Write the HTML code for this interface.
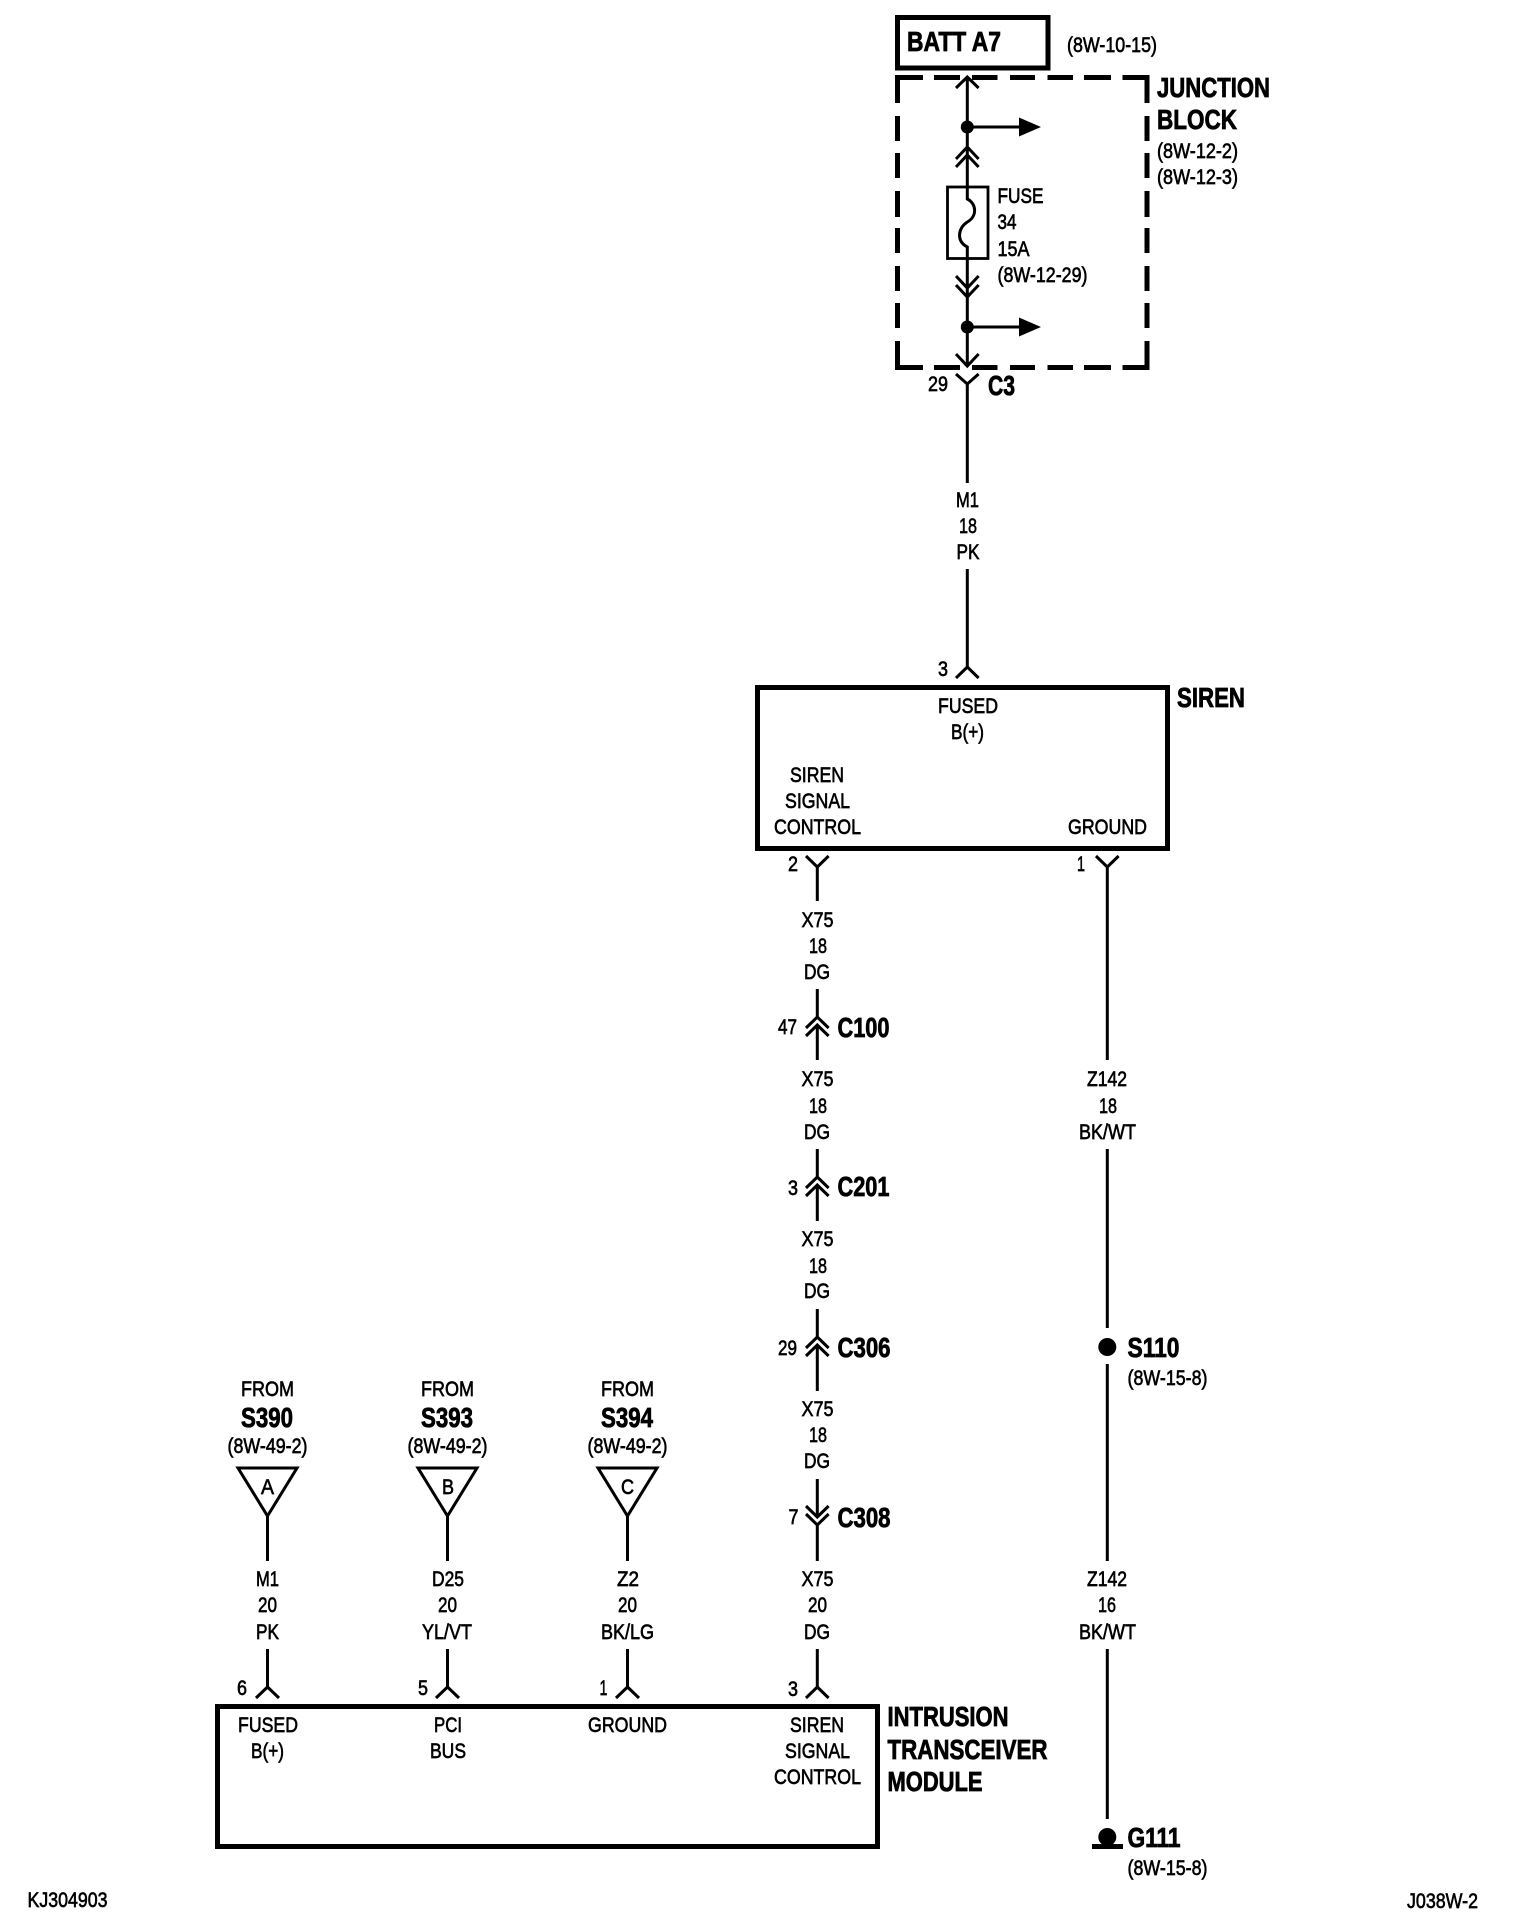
<!DOCTYPE html>
<html><head><meta charset="utf-8"><style>
html,body{margin:0;padding:0;background:#fff}
svg{display:block}
text{font-family:"Liberation Sans",Arial,sans-serif;fill:#000}
.r{font-size:21.5px;stroke:#000;stroke-width:.65}
.b{font-size:28px;font-weight:bold;stroke:#000;stroke-width:.8}
.w{fill:none;stroke:#000;stroke-width:3}
</style></head><body>
<svg width="1520" height="1928" viewBox="0 0 1520 1928" xmlns="http://www.w3.org/2000/svg">
<rect width="1520" height="1928" fill="#fff"/>
<!-- BATT box -->
<rect x="897.5" y="17.5" width="150.5" height="50.5" fill="none" stroke="#000" stroke-width="5"/>
<text class="b" x="907" y="51" textLength="94" lengthAdjust="spacingAndGlyphs">BATT A7</text>
<text class="r" x="1067" y="52" textLength="90" lengthAdjust="spacingAndGlyphs">(8W-10-15)</text>
<!-- Junction dashed box -->
<g fill="#000">
<rect x="895.5" y="75" width="27.5" height="5"/><rect x="934" y="75" width="26" height="5"/><rect x="972" y="75" width="25.5" height="5"/><rect x="1010" y="75" width="25" height="5"/><rect x="1047.5" y="75" width="25.5" height="5"/><rect x="1084" y="75" width="27" height="5"/><rect x="1122.5" y="75" width="27" height="5"/>
<rect x="895.5" y="365" width="27.5" height="5"/><rect x="934" y="365" width="26" height="5"/><rect x="972" y="365" width="25.5" height="5"/><rect x="1010" y="365" width="25" height="5"/><rect x="1047.5" y="365" width="25.5" height="5"/><rect x="1084" y="365" width="27" height="5"/><rect x="1122.5" y="365" width="27" height="5"/>
<rect x="895" y="75" width="5" height="28"/><rect x="895" y="116" width="5" height="25"/><rect x="895" y="153" width="5" height="25"/><rect x="895" y="191" width="5" height="26"/><rect x="895" y="228" width="5" height="25"/><rect x="895" y="266" width="5" height="25"/><rect x="895" y="303" width="5" height="25"/><rect x="895" y="341" width="5" height="29"/>
<rect x="1144.5" y="75" width="5" height="28"/><rect x="1144.5" y="116" width="5" height="25"/><rect x="1144.5" y="153" width="5" height="25"/><rect x="1144.5" y="191" width="5" height="26"/><rect x="1144.5" y="228" width="5" height="25"/><rect x="1144.5" y="266" width="5" height="25"/><rect x="1144.5" y="303" width="5" height="25"/><rect x="1144.5" y="341" width="5" height="29"/>
</g>
<text class="b" x="1157" y="97" textLength="113" lengthAdjust="spacingAndGlyphs">JUNCTION</text>
<text class="b" x="1157" y="129" textLength="80" lengthAdjust="spacingAndGlyphs">BLOCK</text>
<text class="r" x="1157" y="158" textLength="81" lengthAdjust="spacingAndGlyphs">(8W-12-2)</text>
<text class="r" x="1157" y="184" textLength="81" lengthAdjust="spacingAndGlyphs">(8W-12-3)</text>
<!-- Junction internals -->
<path class="w" d="M967.3 77V186M956 88L967.3 77L978.6 88M956 159L967.3 147L978.6 159M956 167L967.3 155L978.6 167"/>
<circle cx="967.3" cy="127" r="6.5"/>
<path class="w" d="M967.3 127H1022"/><path d="M1019 117.5L1041 127L1019 136.5Z"/>
<rect x="947.5" y="187" width="40.5" height="71.5" fill="none" stroke="#000" stroke-width="2.8"/>
<path class="w" d="M967.3 186V199C976 203 978 216 967.3 222C958 228 956 241 967.3 247V297V366M956 276L967.3 288L978.6 276M956 285L967.3 297L978.6 285M956 354L967.3 366L978.6 354"/>
<circle cx="967.3" cy="327" r="6.5"/>
<path class="w" d="M967.3 327H1022"/><path d="M1019 317.5L1041 327L1019 336.5Z"/>
<text class="r" x="997.5" y="203" textLength="46" lengthAdjust="spacingAndGlyphs">FUSE</text>
<text class="r" x="997.5" y="229" textLength="19" lengthAdjust="spacingAndGlyphs">34</text>
<text class="r" x="997.5" y="256" textLength="32" lengthAdjust="spacingAndGlyphs">15A</text>
<text class="r" x="997.5" y="282" textLength="90" lengthAdjust="spacingAndGlyphs">(8W-12-29)</text>
<!-- C3 -->
<path class="w" d="M956 374L967.3 384L978.6 374M967.3 384V483M967.3 569V667M956 678L967.3 667L978.6 678"/>
<text class="r" x="928" y="391" textLength="20" lengthAdjust="spacingAndGlyphs">29</text>
<text class="b" x="988" y="395" textLength="27" lengthAdjust="spacingAndGlyphs">C3</text>
<text class="r" x="956" y="507" textLength="23" lengthAdjust="spacingAndGlyphs">M1</text>
<text class="r" x="959" y="533" textLength="18" lengthAdjust="spacingAndGlyphs">18</text>
<text class="r" x="956.5" y="559" textLength="23" lengthAdjust="spacingAndGlyphs">PK</text>
<text class="r" x="938" y="676" textLength="10" lengthAdjust="spacingAndGlyphs">3</text>
<!-- SIREN box -->
<rect x="757.5" y="687.5" width="410" height="161" fill="none" stroke="#000" stroke-width="5"/>
<text class="b" x="1177" y="707" textLength="68" lengthAdjust="spacingAndGlyphs">SIREN</text>
<text class="r" x="938" y="713" textLength="60" lengthAdjust="spacingAndGlyphs">FUSED</text>
<text class="r" x="951" y="739" textLength="33" lengthAdjust="spacingAndGlyphs">B(+)</text>
<text class="r" x="790" y="782" textLength="54" lengthAdjust="spacingAndGlyphs">SIREN</text>
<text class="r" x="785" y="808" textLength="65" lengthAdjust="spacingAndGlyphs">SIGNAL</text>
<text class="r" x="774" y="834" textLength="87" lengthAdjust="spacingAndGlyphs">CONTROL</text>
<text class="r" x="1068" y="834" textLength="79" lengthAdjust="spacingAndGlyphs">GROUND</text>
<!-- X75 column -->
<path class="w" d="M806 856L817.3 867L828.6 856M817.3 867V901M817.3 989V1017M806 1028L817.3 1017L828.6 1028M806 1036L817.3 1025L828.6 1036M817.3 1025V1060"/>
<text class="r" x="788" y="871" textLength="10" lengthAdjust="spacingAndGlyphs">2</text>
<text class="r" x="801.5" y="927" textLength="32" lengthAdjust="spacingAndGlyphs">X75</text>
<text class="r" x="809" y="953" textLength="18" lengthAdjust="spacingAndGlyphs">18</text>
<text class="r" x="804" y="979" textLength="26" lengthAdjust="spacingAndGlyphs">DG</text>
<text class="r" x="778" y="1034" textLength="19" lengthAdjust="spacingAndGlyphs">47</text>
<text class="b" x="837.5" y="1037" textLength="52" lengthAdjust="spacingAndGlyphs">C100</text>
<text class="r" x="801.5" y="1086" textLength="32" lengthAdjust="spacingAndGlyphs">X75</text>
<text class="r" x="809" y="1113" textLength="18" lengthAdjust="spacingAndGlyphs">18</text>
<text class="r" x="804" y="1139" textLength="26" lengthAdjust="spacingAndGlyphs">DG</text>
<path class="w" d="M817.3 1149V1177M806 1188L817.3 1177L828.6 1188M806 1196L817.3 1185L828.6 1196M817.3 1185V1221"/>
<text class="r" x="788" y="1195" textLength="10" lengthAdjust="spacingAndGlyphs">3</text>
<text class="b" x="837.5" y="1196" textLength="52" lengthAdjust="spacingAndGlyphs">C201</text>
<text class="r" x="801.5" y="1246" textLength="32" lengthAdjust="spacingAndGlyphs">X75</text>
<text class="r" x="809" y="1273" textLength="18" lengthAdjust="spacingAndGlyphs">18</text>
<text class="r" x="804" y="1298" textLength="26" lengthAdjust="spacingAndGlyphs">DG</text>
<path class="w" d="M817.3 1309V1337M806 1348L817.3 1337L828.6 1348M806 1356L817.3 1345L828.6 1356M817.3 1345V1391"/>
<text class="r" x="778" y="1355" textLength="19" lengthAdjust="spacingAndGlyphs">29</text>
<text class="b" x="837.5" y="1357" textLength="53" lengthAdjust="spacingAndGlyphs">C306</text>
<text class="r" x="801.5" y="1416" textLength="32" lengthAdjust="spacingAndGlyphs">X75</text>
<text class="r" x="809" y="1442" textLength="18" lengthAdjust="spacingAndGlyphs">18</text>
<text class="r" x="804" y="1468" textLength="26" lengthAdjust="spacingAndGlyphs">DG</text>
<path class="w" d="M817.3 1479V1517M806 1506L817.3 1517L828.6 1506M806 1514L817.3 1525L828.6 1514M817.3 1525V1561"/>
<text class="r" x="788.5" y="1524" textLength="10" lengthAdjust="spacingAndGlyphs">7</text>
<text class="b" x="837.5" y="1527" textLength="53" lengthAdjust="spacingAndGlyphs">C308</text>
<text class="r" x="801.5" y="1586" textLength="32" lengthAdjust="spacingAndGlyphs">X75</text>
<text class="r" x="808" y="1612" textLength="19" lengthAdjust="spacingAndGlyphs">20</text>
<text class="r" x="804" y="1639" textLength="26" lengthAdjust="spacingAndGlyphs">DG</text>
<path class="w" d="M817.3 1649V1687M806 1698L817.3 1687L828.6 1698"/>
<text class="r" x="788" y="1696" textLength="10" lengthAdjust="spacingAndGlyphs">3</text>
<!-- Ground column -->
<path class="w" d="M1096 856L1107.3 867L1118.6 856M1107.3 867V1060M1107.3 1149V1328M1107.3 1364V1561M1107.3 1649V1819"/>
<text class="r" x="1077" y="871" textLength="8" lengthAdjust="spacingAndGlyphs">1</text>
<text class="r" x="1087" y="1086" textLength="40" lengthAdjust="spacingAndGlyphs">Z142</text>
<text class="r" x="1099" y="1113" textLength="18" lengthAdjust="spacingAndGlyphs">18</text>
<text class="r" x="1079" y="1139" textLength="57" lengthAdjust="spacingAndGlyphs">BK/WT</text>
<circle cx="1107.3" cy="1347" r="9"/>
<text class="b" x="1127.5" y="1357" textLength="52" lengthAdjust="spacingAndGlyphs">S110</text>
<text class="r" x="1127.5" y="1385" textLength="80" lengthAdjust="spacingAndGlyphs">(8W-15-8)</text>
<text class="r" x="1087" y="1586" textLength="40" lengthAdjust="spacingAndGlyphs">Z142</text>
<text class="r" x="1098" y="1612" textLength="18" lengthAdjust="spacingAndGlyphs">16</text>
<text class="r" x="1079" y="1639" textLength="57" lengthAdjust="spacingAndGlyphs">BK/WT</text>
<circle cx="1107.3" cy="1837" r="9"/><rect x="1092" y="1844" width="31" height="5"/>
<text class="b" x="1127.5" y="1847" textLength="53" lengthAdjust="spacingAndGlyphs">G111</text>
<text class="r" x="1127.5" y="1875" textLength="80" lengthAdjust="spacingAndGlyphs">(8W-15-8)</text>
<!-- Left triple -->
<g>
<text class="r" x="241" y="1396" textLength="53" lengthAdjust="spacingAndGlyphs">FROM</text>
<text class="b" x="241" y="1427" textLength="52" lengthAdjust="spacingAndGlyphs">S390</text>
<text class="r" x="227.5" y="1453" textLength="80" lengthAdjust="spacingAndGlyphs">(8W-49-2)</text>
<path class="w" d="M238 1468H297L267.5 1516ZM267.5 1516V1561M267.5 1649V1687M256 1698L267.5 1687L279 1698"/>
<text class="r" x="261" y="1494" textLength="13" lengthAdjust="spacingAndGlyphs">A</text>
<text class="r" x="256" y="1586" textLength="23" lengthAdjust="spacingAndGlyphs">M1</text>
<text class="r" x="258" y="1612" textLength="19" lengthAdjust="spacingAndGlyphs">20</text>
<text class="r" x="256" y="1639" textLength="23" lengthAdjust="spacingAndGlyphs">PK</text>
<text class="r" x="237" y="1695" textLength="10" lengthAdjust="spacingAndGlyphs">6</text>
</g>
<g>
<text class="r" x="421" y="1396" textLength="53" lengthAdjust="spacingAndGlyphs">FROM</text>
<text class="b" x="421" y="1427" textLength="52" lengthAdjust="spacingAndGlyphs">S393</text>
<text class="r" x="407.5" y="1453" textLength="80" lengthAdjust="spacingAndGlyphs">(8W-49-2)</text>
<path class="w" d="M418 1468H477L447.5 1516ZM447.5 1516V1561M447.5 1649V1687M436 1698L447.5 1687L459 1698"/>
<text class="r" x="442" y="1494" textLength="12" lengthAdjust="spacingAndGlyphs">B</text>
<text class="r" x="432" y="1586" textLength="32" lengthAdjust="spacingAndGlyphs">D25</text>
<text class="r" x="438" y="1612" textLength="19" lengthAdjust="spacingAndGlyphs">20</text>
<text class="r" x="422" y="1639" textLength="50" lengthAdjust="spacingAndGlyphs">YL/VT</text>
<text class="r" x="418" y="1695" textLength="10" lengthAdjust="spacingAndGlyphs">5</text>
</g>
<g>
<text class="r" x="601" y="1396" textLength="53" lengthAdjust="spacingAndGlyphs">FROM</text>
<text class="b" x="601" y="1427" textLength="52" lengthAdjust="spacingAndGlyphs">S394</text>
<text class="r" x="587.5" y="1453" textLength="80" lengthAdjust="spacingAndGlyphs">(8W-49-2)</text>
<path class="w" d="M598 1468H657L627.5 1516ZM627.5 1516V1561M627.5 1649V1687M616 1698L627.5 1687L639 1698"/>
<text class="r" x="621" y="1494" textLength="13" lengthAdjust="spacingAndGlyphs">C</text>
<text class="r" x="617" y="1586" textLength="22" lengthAdjust="spacingAndGlyphs">Z2</text>
<text class="r" x="618" y="1612" textLength="19" lengthAdjust="spacingAndGlyphs">20</text>
<text class="r" x="601" y="1639" textLength="53" lengthAdjust="spacingAndGlyphs">BK/LG</text>
<text class="r" x="599.5" y="1695" textLength="8" lengthAdjust="spacingAndGlyphs">1</text>
</g>
<!-- Module box -->
<rect x="217.5" y="1706.5" width="660" height="140" fill="none" stroke="#000" stroke-width="5"/>
<text class="r" x="238" y="1732" textLength="60" lengthAdjust="spacingAndGlyphs">FUSED</text>
<text class="r" x="251" y="1758" textLength="33" lengthAdjust="spacingAndGlyphs">B(+)</text>
<text class="r" x="434" y="1732" textLength="28" lengthAdjust="spacingAndGlyphs">PCI</text>
<text class="r" x="430" y="1758" textLength="36" lengthAdjust="spacingAndGlyphs">BUS</text>
<text class="r" x="588" y="1732" textLength="79" lengthAdjust="spacingAndGlyphs">GROUND</text>
<text class="r" x="790" y="1732" textLength="54" lengthAdjust="spacingAndGlyphs">SIREN</text>
<text class="r" x="785" y="1758" textLength="65" lengthAdjust="spacingAndGlyphs">SIGNAL</text>
<text class="r" x="774" y="1784" textLength="87" lengthAdjust="spacingAndGlyphs">CONTROL</text>
<text class="b" x="887.5" y="1726" textLength="121" lengthAdjust="spacingAndGlyphs">INTRUSION</text>
<text class="b" x="887.5" y="1759" textLength="160" lengthAdjust="spacingAndGlyphs">TRANSCEIVER</text>
<text class="b" x="887.5" y="1791" textLength="95" lengthAdjust="spacingAndGlyphs">MODULE</text>
<!-- Footer -->
<text class="r" x="27.5" y="1907" textLength="80" lengthAdjust="spacingAndGlyphs">KJ304903</text>
<text class="r" x="1407" y="1908" textLength="71" lengthAdjust="spacingAndGlyphs">J038W-2</text>
</svg>
</body></html>
